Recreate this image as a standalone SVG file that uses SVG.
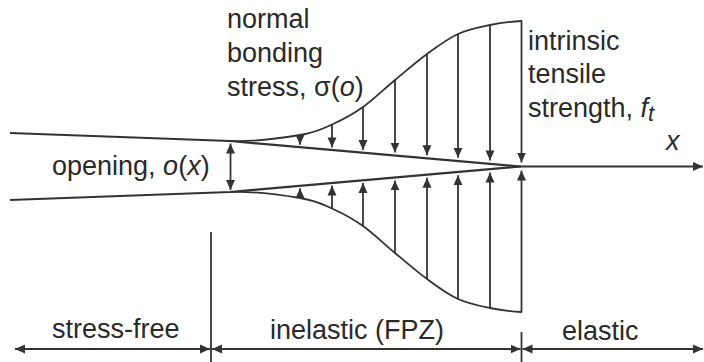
<svg xmlns="http://www.w3.org/2000/svg" xmlns:xlink="http://www.w3.org/1999/xlink" width="704" height="362" viewBox="0 0 704 362">
<style>
.t{font-family:"Liberation Sans",Arial,sans-serif;font-size:27px;fill:#2a2a2a}
.i{font-style:italic}
.ln{fill:none;stroke:#333;stroke-width:2.2}
.ar{fill:none;stroke:#333;stroke-width:1.8;marker-end:url(#ah)}
.dd{fill:none;stroke:#333;stroke-width:1.8;marker-start:url(#ah);marker-end:url(#ah)}
.cv{fill:none;stroke:#333;stroke-width:1.8}
</style>
<defs>
<marker id="ah" viewBox="0 0 10 10" refX="10" refY="5" markerWidth="10" markerHeight="10" markerUnits="userSpaceOnUse" orient="auto-start-reverse">
<path d="M0,0.5 L10,5 L0,9.5 z" fill="#333"/>
</marker>
<g id="upper">
<path class="cv" d="M230,141 C253,142 282.8,137.8 300,135 C317.2,132.2 322.5,128.7 333,124 C343.5,119.3 352.7,114.3 363,107 C373.3,99.7 384.3,88.8 395,80 C405.7,71.2 416.5,61.7 427,54 C437.5,46.3 447.5,38.8 458,34 C468.5,29.2 479.5,27.2 490,25 C500.5,22.8 510,21.5 522,21"/>
<line class="ar" x1="300" y1="135" x2="300" y2="144.8"/>
<line class="ar" x1="332" y1="124" x2="332" y2="147.4"/>
<line class="ar" x1="363" y1="107" x2="363" y2="150"/>
<line class="ar" x1="395" y1="80" x2="395" y2="152.6"/>
<line class="ar" x1="427" y1="54" x2="427" y2="155.2"/>
<line class="ar" x1="458" y1="34" x2="458" y2="157.8"/>
<line class="ar" x1="490" y1="25" x2="490" y2="160.4"/>
<line class="ar" x1="521.5" y1="20.5" x2="521.5" y2="162.5"/>
</g>
</defs>
<g id="crack">
<polyline class="ln" points="10,133 230,141 521,166.5"/>
<polyline class="ln" points="10,200 230,192 521,166.5"/>
<line class="ar" x1="521" y1="166.5" x2="703" y2="166.5" stroke-width="2.2"/>
<line class="dd" x1="230.5" y1="143.5" x2="230.5" y2="190"/>
</g>
<g id="stress-profile">
<use xlink:href="#upper"/>
<use xlink:href="#upper" transform="matrix(1 0 0 -1 0 333)"/>
</g>
<g id="zones">
<line class="cv" x1="211" y1="232" x2="211" y2="362"/>
<line class="cv" x1="521.5" y1="332" x2="521.5" y2="362"/>
<line class="dd" x1="15" y1="349" x2="210" y2="349"/>
<line class="dd" x1="212" y1="349" x2="520.5" y2="349"/>
<line class="dd" x1="522.5" y1="349" x2="703" y2="349"/>
</g>
<g id="labels">
<text class="t" x="227" y="28">normal</text>
<text class="t" x="227" y="62">bonding</text>
<text class="t" x="227" y="96">stress, σ(<tspan class="i">o</tspan>)</text>
<text class="t" x="52" y="175">opening, <tspan class="i">o</tspan>(<tspan class="i">x</tspan>)</text>
<text class="t" x="528" y="50">intrinsic</text>
<text class="t" x="528" y="83">tensile</text>
<text class="t" x="528" y="117">strength, <tspan class="i">f</tspan><tspan class="i" font-size="22" dy="4">t</tspan></text>
<text class="t i" x="666" y="150">x</text>
<text class="t" x="52" y="338">stress-free</text>
<text class="t" x="270" y="339">inelastic (FPZ)</text>
<text class="t" x="562" y="340">elastic</text>
</g>
</svg>
